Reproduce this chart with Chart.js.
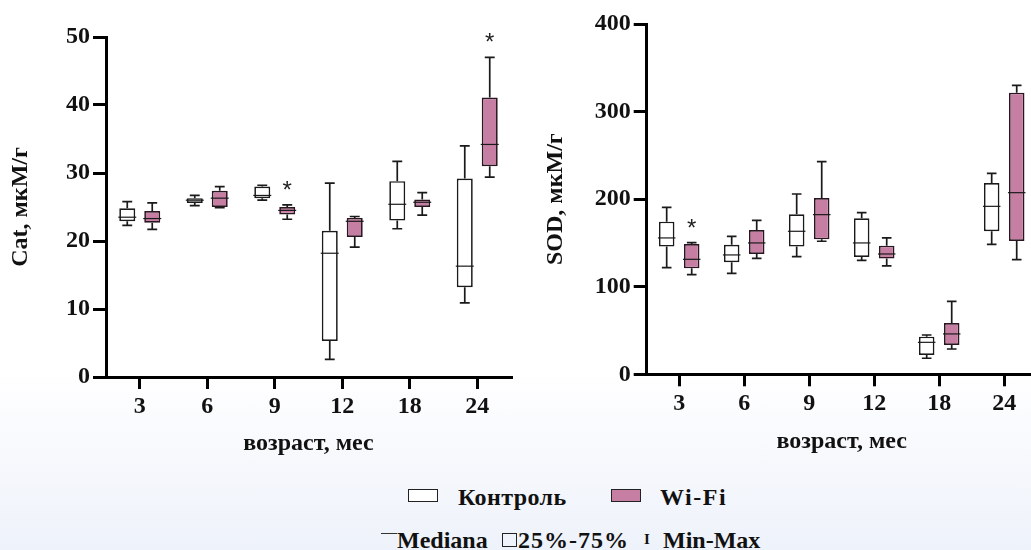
<!DOCTYPE html>
<html lang="ru">
<head>
<meta charset="utf-8">
<title>Cat и SOD по возрасту</title>
<script src="https://cdn.jsdelivr.net/npm/chart.js@4.4.1/dist/chart.umd.min.js"></script>
<style>
  html, body { margin: 0; padding: 0; width: 1031px; height: 550px; overflow: hidden; }
  body {
    position: relative;
    background: linear-gradient(to bottom, #ffffff 0px, #ffffff 365px, #eef2fa 550px);
    font-family: 'Liberation Serif', serif;
    font-weight: bold;
    color: #111;
  }
  #catChart { position: absolute; left: 0; top: 0; }
  #sodChart { position: absolute; left: 520px; top: 0; }
  .sw { position: absolute; width: 28px; height: 11px; border: 1.6px solid #222; }
  .lbl { position: absolute; font-family: 'Liberation Serif', serif; font-weight: bold; font-size: 24px; line-height: 1; white-space: nowrap; }
  .dash { position: absolute; left: 381px; top: 533px; width: 16px; border-top: 1.4px solid #333; }
  .sq { position: absolute; left: 502px; top: 533px; width: 13px; height: 12px; border: 1.2px solid #222; }
  .ibeam { position: absolute; left: 644px; top: 532px; font-family: 'Liberation Serif', serif; font-weight: bold; font-size: 15px; line-height: 1; }
</style>
</head>
<body>
<canvas id="catChart" width="520" height="460"></canvas>
<canvas id="sodChart" width="530" height="460"></canvas>

<div class="sw" style="left:408px; top:489px; background:#ffffff;"></div>
<div class="lbl" style="left:458px; top:485px; letter-spacing:0.4px;">Контроль</div>
<div class="sw" style="left:611px; top:489px; background:#c67fa3;"></div>
<div class="lbl" style="left:660px; top:485px; letter-spacing:1.5px;">Wi-Fi</div>

<div class="dash"></div>
<div class="lbl" style="left:397px; top:528px;">Mediana</div>
<div class="sq"></div>
<div class="lbl" style="left:518px; top:528px; letter-spacing:1px;">25%-75%</div>
<div class="ibeam">I</div>
<div class="lbl" style="left:663px; top:528px;">Min-Max</div>

<script>
// Возраст (мес)
const ages = ['3', '6', '9', '12', '18', '24'];

// Cat, мкМ/г : [min, q1, median, q3, max]
const catControl = [
    [22.3, 22.9, 23.5, 24.8, 25.8],
    [25.2, 25.6, 26.0, 26.3, 26.7],
    [26.0, 26.3, 26.7, 28.0, 28.2],
    [2.6, 5.3, 18.2, 21.5, 28.5],
    [21.8, 23.0, 25.4, 28.8, 31.7],
    [10.9, 13.2, 16.3, 29.2, 34.0]
];
const catWifi = [
    [21.7, 22.7, 23.3, 24.4, 25.6],
    [24.9, 25.0, 26.3, 27.4, 28.0],
    [23.2, 23.9, 24.5, 25.0, 25.3],
    [19.1, 20.6, 22.9, 23.4, 23.6],
    [23.8, 25.0, 25.7, 26.1, 27.1],
    [29.4, 31.0, 34.2, 41.1, 47.0]
];
const catWifiStars = [false, false, true, false, false, true];

// SOD, мкМ/г : [min, q1, median, q3, max]
const sodControl = [
    [121.8, 145.8, 155.7, 174.3, 190.7],
    [115.3, 127.9, 136.3, 148.0, 157.6],
    [134.3, 145.8, 163.3, 182.7, 205.9],
    [130.2, 134.0, 150.0, 178.1, 184.6],
    [18.3, 22.1, 36.5, 43.0, 44.9],
    [148.4, 163.3, 191.8, 218.5, 229.5]
];
const sodWifi = [
    [113.8, 121.0, 131.3, 148.8, 150.3],
    [132.4, 137.4, 150.0, 164.8, 175.8],
    [151.9, 154.1, 182.3, 201.3, 242.8],
    [123.7, 132.1, 137.4, 146.9, 155.7],
    [28.9, 33.5, 46.1, 58.6, 83.3],
    [130.9, 152.2, 207.4, 321.6, 330.0]
];
const sodWifiStars = [true, false, false, false, false, false];

const FONT = "'Liberation Serif', serif";

// Плагин: усы (min-max), медиана и звёздочки поверх плавающих столбцов (25%-75%)
const boxWhiskers = {
    id: 'boxWhiskers',
    afterDatasetsDraw(chart) {
        const ctx = chart.ctx;
        const y = chart.scales.y;
        chart.data.datasets.forEach((ds, i) => {
            const meta = chart.getDatasetMeta(i);
            meta.data.forEach((bar, j) => {
                const [min, q1, med, q3, max] = ds.stats[j];
                const half = bar.width / 2;
                const cap = half * 0.62;
                const yMin = y.getPixelForValue(min);
                const yQ1 = y.getPixelForValue(q1);
                const yMed = y.getPixelForValue(med);
                const yQ3 = y.getPixelForValue(q3);
                const yMax = y.getPixelForValue(max);
                ctx.save();
                ctx.strokeStyle = '#1a1a1a';
                ctx.lineWidth = 1.7;
                ctx.beginPath();
                ctx.moveTo(bar.x, yQ3); ctx.lineTo(bar.x, yMax);
                ctx.moveTo(bar.x - cap, yMax); ctx.lineTo(bar.x + cap, yMax);
                ctx.moveTo(bar.x, yQ1); ctx.lineTo(bar.x, yMin);
                ctx.moveTo(bar.x - cap, yMin); ctx.lineTo(bar.x + cap, yMin);
                ctx.stroke();
                ctx.lineWidth = 1.2;
                ctx.beginPath();
                ctx.moveTo(bar.x - half - 1, yMed); ctx.lineTo(bar.x + half + 1, yMed);
                ctx.stroke();
                if (ds.stars && ds.stars[j]) {
                    ctx.fillStyle = '#222';
                    ctx.font = "24px 'Liberation Sans', sans-serif";
                    ctx.textAlign = 'center';
                    ctx.textBaseline = 'alphabetic';
                    ctx.fillText('*', bar.x, yMax - 7);
                }
                ctx.restore();
            });
        });
    }
};

function createBoxChart(id, control, wifi, wifiStars, cfg) {
    const ctx = document.getElementById(id).getContext('2d');
    return new Chart(ctx, {
        type: 'bar',
        data: {
            labels: ages,
            datasets: [
                {
                    label: 'Контроль',
                    data: control.map(r => [r[1], r[3]]),
                    stats: control,
                    backgroundColor: '#ffffff',
                    borderColor: '#1a1a1a',
                    borderWidth: 1.7,
                    borderSkipped: false,
                    categoryPercentage: cfg.catPct,
                    barPercentage: cfg.barPct
                },
                {
                    label: 'Wi-Fi',
                    data: wifi.map(r => [r[1], r[3]]),
                    stats: wifi,
                    stars: wifiStars,
                    backgroundColor: '#c67fa3',
                    borderColor: '#2a1620',
                    borderWidth: 1.7,
                    borderSkipped: false,
                    categoryPercentage: cfg.catPct,
                    barPercentage: cfg.barPct
                }
            ]
        },
        options: {
            responsive: false,
            animation: false,
            events: [],
            layout: { padding: cfg.padding },
            plugins: { legend: { display: false }, tooltip: { enabled: false } },
            scales: {
                x: {
                    type: 'category',
                    afterFit: s => { s.height = cfg.xHeight; },
                    grid: { offset: false, drawOnChartArea: false, drawTicks: true, tickLength: 12, color: '#000', lineWidth: 3 },
                    border: { display: true, color: '#000', width: 3 },
                    ticks: { color: '#111', padding: 3, font: { family: FONT, size: 24, weight: 'bold' } },
                    title: {
                        display: true, text: 'возраст, мес', color: '#111',
                        padding: { top: 0, bottom: cfg.xTitlePad },
                        font: { family: FONT, size: 24, weight: 'bold' }
                    }
                },
                y: {
                    min: 0, max: cfg.yMax,
                    afterFit: s => { s.width = cfg.yWidth; },
                    grid: { drawOnChartArea: false, drawTicks: true, tickLength: 13, color: '#000', lineWidth: 3 },
                    border: { display: true, color: '#000', width: 3 },
                    ticks: { stepSize: cfg.yStep, color: '#111', padding: 3, font: { family: FONT, size: 24, weight: 'bold' } },
                    title: {
                        display: true, text: cfg.yTitle, color: '#111',
                        padding: { top: cfg.yTitlePad, bottom: 0 },
                        font: { family: FONT, size: 24, weight: 'bold' }
                    }
                }
            }
        },
        plugins: [boxWhiskers]
    });
}

function drawAll() {
    createBoxChart('catChart', catControl, catWifi, catWifiStars, {
        yMax: 50, yStep: 10, yTitle: 'Cat, мкМ/г',
        padding: { top: 37, right: 9, bottom: 0, left: 0 },
        yWidth: 106, xHeight: 83, yTitlePad: 6.6, xTitlePad: 2,
        catPct: 0.74, barPct: 0.64
    });
    createBoxChart('sodChart', sodControl, sodWifi, sodWifiStars, {
        yMax: 400, yStep: 100, yTitle: 'SOD, мкМ/г',
        padding: { top: 24, right: 13.3, bottom: 0, left: 0 },
        yWidth: 126.7, xHeight: 85.7, yTitlePad: 21.6, xTitlePad: 4,
        catPct: 0.77, barPct: 0.62
    });
}

// Ждём системный шрифт, чтобы canvas не взял запасной
Promise.all([
    document.fonts.load("bold 24px 'Liberation Serif'"),
    document.fonts.load("24px 'Liberation Sans'")
]).then(drawAll, drawAll);
</script>
</body>
</html>
